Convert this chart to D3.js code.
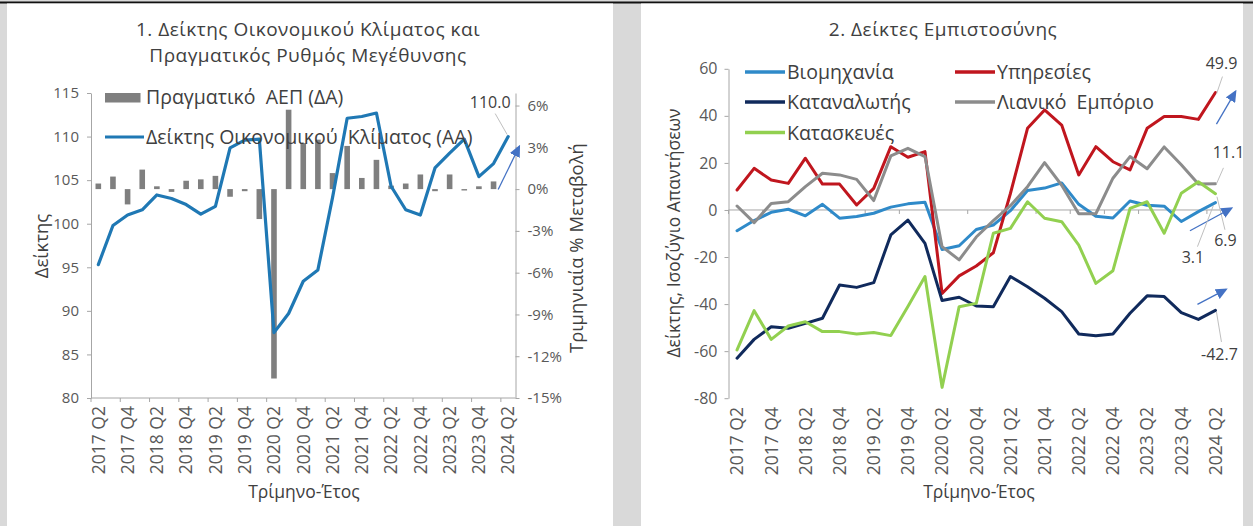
<!DOCTYPE html>
<html>
<head>
<meta charset="utf-8">
<script src="https://cdn.jsdelivr.net/npm/d3@7"></script>
<style>
  body { margin: 0; background: #d9d9d9; }
  svg { display: block; }
</style>
</head>
<body>
<script>

// ---- data ----
const quarters = [
  "2017 Q2", "2017 Q3", "2017 Q4",
  "2018 Q1", "2018 Q2", "2018 Q3", "2018 Q4",
  "2019 Q1", "2019 Q2", "2019 Q3", "2019 Q4",
  "2020 Q1", "2020 Q2", "2020 Q3", "2020 Q4",
  "2021 Q1", "2021 Q2", "2021 Q3", "2021 Q4",
  "2022 Q1", "2022 Q2", "2022 Q3", "2022 Q4",
  "2023 Q1", "2023 Q2", "2023 Q3", "2023 Q4",
  "2024 Q1", "2024 Q2"
]

// chart 1
const climateIndex = [95.3, 99.8, 101.0, 101.6, 103.3, 102.9, 102.2, 101.1, 102.0, 108.7, 109.6, 109.7,
  87.5, 89.7, 93.4, 94.7, 103.0, 112.1, 112.3, 112.7, 104.3, 101.6, 101.0, 106.4, 108.1, 109.7, 105.4, 106.9, 110.0]
const realGdp = [0.4, 0.9, -1.1, 1.4, 0.2, -0.2, 0.6, 0.7, 0.95, -0.55, -0.15, -2.15,
  -13.6, 5.7, 3.3, 3.55, 1.15, 3.1, 0.8, 2.1, 0.25, 0.4, 1.05, -0.15, 1.05, -0.1, 0.2, 0.55, null]
const indexTicks = [80, 85, 90, 95, 100, 105, 110, 115]
const pctTicks = [-15, -12, -9, -6, -3, 0, 3, 6]

// chart 2
const industry = [-8.8, -4.5, -1.0, 0.3, -2.5, 2.4, -3.5, -2.8, -1.4, 1.2, 2.6, 3.3,
  -16.8, -15.2, -8.3, -6.4, -0.3, 8.3, 9.3, 11.5, 2.4, -2.7, -3.4, 3.8, 2.0, 1.6, -4.9, -0.7, 3.1]
const services = [8.5, 17.7, 12.7, 11.3, 22.0, 11.0, 11.0, 2.1, 9.2, 26.9, 22.4, 24.8,
  -35.5, -28.0, -23.8, -18.2, 7.0, 34.7, 42.5, 36.1, 14.9, 26.9, 20.5, 17.0, 34.7, 39.7, 39.7, 38.5, 49.9]
const consumers = [-63.0, -55.0, -49.6, -50.3, -48.2, -46.0, -31.9, -32.9, -30.9, -10.6, -4.3, -14.2,
  -38.5, -37.1, -40.8, -41.1, -28.3, -32.6, -37.5, -43.2, -52.7, -53.5, -52.7, -43.9, -36.5, -36.8, -43.6, -46.5, -42.7]
const retail = [1.7, -5.4, 2.8, 3.5, 9.9, 15.6, 14.9, 13.0, 4.0, 23.0, 26.2, 22.7,
  -15.6, -21.2, -11.5, -4.5, 1.8, 9.9, 20.1, 10.5, -1.6, -1.6, 13.5, 22.7, 17.5, 26.8, 19.2, 11.0, 11.1]
const construction = [-59.5, -42.8, -55.0, -49.3, -47.5, -51.7, -51.7, -52.7, -52.1, -53.4, -41.0, -28.3,
  -75.4, -41.1, -39.7, -9.9, -7.8, 3.5, -3.5, -5.0, -14.9, -31.2, -25.8, 0.7, 3.5, -9.9, 7.1, 12.0, 6.9]
const confTicks = [-80, -60, -40, -20, 0, 20, 40, 60]

const seriesNames = ["Βιομηχανία", "Υπηρεσίες", "Καταναλωτής", "Λιανικό  Εμπόριο", "Κατασκευές"]
const seriesColors = ["#2f8ac9", "#c0161e", "#102a5c", "#8c8c8c", "#92d050"]
const seriesValues = [industry, services, consumers, retail, construction]

// ---- page ----
const W = 1253, H = 526
const textColor = "#404040"
const axisColor = "#a6a6a6"
const font = "'Open Sans', 'DejaVu Sans', sans-serif"
const arrowBlue = "#4472c4"

const svg = d3.select('body').append('svg')
  .attr('width', W).attr('height', H)
  .style('font-family', font)

svg.append('rect').attr('width', W).attr('height', H).attr('fill', '#d9d9d9')
svg.append('rect').attr('x', 0).attr('y', 1.5).attr('width', W).attr('height', 2).attr('fill', '#111')
svg.append('rect').attr('x', 7).attr('y', 3.5).attr('width', 606).attr('height', H).attr('fill', '#fff')
svg.append('rect').attr('x', 641).attr('y', 3.5).attr('width', 602).attr('height', H).attr('fill', '#fff')

const defs = svg.append('defs')
defs.append('marker')
  .attr('id', 'arrowhead')
  .attr('viewBox', '0 0 12 11')
  .attr('refX', 10).attr('refY', 5.5)
  .attr('markerWidth', 12).attr('markerHeight', 11)
  .attr('markerUnits', 'userSpaceOnUse')
  .attr('orient', 'auto')
  .append('path').attr('d', 'M0,0 L12,5.5 L0,11 Z').attr('fill', arrowBlue)

function styleAxis(g, size) {
  g.attr('font-size', null).attr('font-family', null)
  g.select('.domain').attr('stroke', axisColor)
  g.selectAll('.tick line').attr('stroke', axisColor)
  g.selectAll('.tick text').attr('fill', '#595959').attr('font-size', size)
}

function addText(x, y, str, size, opts = {}) {
  const t = svg.append('text')
    .attr('x', x).attr('y', y)
    .attr('fill', textColor)
    .attr('font-size', size)
    .attr('text-anchor', opts.anchor || 'middle')
    .style('white-space', 'pre')
    .text(str)
  if (opts.rotate) t.attr('transform', `rotate(-90, ${x}, ${y})`)
  if (opts.spacing) t.attr('letter-spacing', opts.spacing)
  return t
}

function categoryAxis(x, yLine, yLabels, drawLine) {
  const g = svg.append('g')
  const bw = x.bandwidth()
  const [x0, x1] = x.range()
  if (drawLine) {
    g.append('line').attr('x1', x0).attr('x2', x1).attr('y1', yLine).attr('y2', yLine)
      .attr('stroke', axisColor)
  }
  for (let k = 0; k <= quarters.length; k += 2) {
    g.append('line')
      .attr('x1', x0 + k * bw).attr('x2', x0 + k * bw)
      .attr('y1', yLine).attr('y2', yLine + 4)
      .attr('stroke', axisColor)
  }
  g.selectAll('.qlabel')
    .data(quarters.filter((q, i) => i % 2 === 0))
    .enter().append('text')
    .attr('class', 'qlabel')
    .attr('transform', d => `translate(${x(d) + bw / 2}, ${yLabels}) rotate(-90)`)
    .attr('text-anchor', 'end')
    .attr('dy', '0.36em')
    .attr('fill', '#595959')
    .attr('font-size', 17.5)
    .text(d => d)
}

// ================= chart 1 =================
const x1 = d3.scaleBand().domain(quarters).range([91, 515.5])
const y1 = d3.scaleLinear().domain([80, 115]).range([398, 93])
const y1r = d3.scaleLinear().domain([-15, 6.9]).range([398, 93])
const bw1 = x1.bandwidth()
const cx1 = i => x1(quarters[i]) + bw1 / 2

addText(308, 36, "1. Δείκτης Οικονομικού Κλίματος και", 19, { spacing: 0.5 })
addText(308, 62, "Πραγματικός Ρυθμός Μεγέθυνσης", 19, { spacing: 0.5 })

svg.append('g').attr('transform', 'translate(91,0)')
  .call(d3.axisLeft(y1).tickValues(indexTicks).tickSize(4).tickPadding(8).tickSizeOuter(0))
  .call(g => styleAxis(g, 15))

svg.append('g').attr('transform', 'translate(515.5,0)')
  .call(d3.axisRight(y1r).tickValues(pctTicks).tickSize(4).tickPadding(8).tickSizeOuter(0)
    .tickFormat(d => String(d) + '%'))
  .call(g => styleAxis(g, 15))

categoryAxis(x1, 398, 406, true)

// bars
svg.append('g').selectAll('rect')
  .data(realGdp.map((v, i) => ({ v, i })).filter(d => d.v !== null))
  .enter().append('rect')
  .attr('x', d => cx1(d.i) - 2.8)
  .attr('width', 5.6)
  .attr('y', d => Math.min(y1r(d.v), y1r(0)))
  .attr('height', d => Math.max(1.2, Math.abs(y1r(d.v) - y1r(0))))
  .attr('fill', '#7f7f7f')

// line
const line1 = d3.line().x((d, i) => cx1(i)).y(d => y1(d))
svg.append('path').datum(climateIndex)
  .attr('d', line1)
  .attr('fill', 'none')
  .attr('stroke', '#1f78b4')
  .attr('stroke-width', 3.2)
  .attr('stroke-linejoin', 'round')
  .attr('stroke-linecap', 'round')

// legend 1
svg.append('rect').attr('x', 105).attr('y', 93).attr('width', 35.5).attr('height', 9.5).attr('fill', '#7f7f7f')
addText(146, 104, "Πραγματικό  ΑΕΠ (ΔΑ)", 19.5, { anchor: 'start' })
svg.append('line').attr('x1', 105).attr('x2', 144).attr('y1', 137).attr('y2', 137)
  .attr('stroke', '#1f78b4').attr('stroke-width', 3.2)
addText(146, 144, "Δείκτης Οικονομικού  Κλίματος (ΑΑ)", 19.5, { anchor: 'start' })

// axis titles 1
addText(48, 246, "Δείκτης", 18.5, { rotate: true })
addText(583, 248, "Τριμηνιαία % Μεταβολή", 18.5, { rotate: true })
addText(304, 498, "Τρίμηνο-Έτος", 17.5)

// end label 1
{
  const n = climateIndex.length - 1
  const px = cx1(n), py = y1(climateIndex[n])
  svg.append('line').attr('x1', px - 1).attr('y1', py - 2).attr('x2', px - 13).attr('y2', py - 23)
    .attr('stroke', '#bfbfbf').attr('stroke-width', 1)
  addText(px - 18, py - 28.5, climateIndex[n].toFixed(1), 16)
  svg.append('line').attr('x1', px - 10).attr('y1', py + 53).attr('x2', px + 11).attr('y2', py + 10)
    .attr('stroke', arrowBlue).attr('stroke-width', 1.3)
    .attr('marker-end', 'url(#arrowhead)')
}

// ================= chart 2 =================
const x2 = d3.scaleBand().domain(quarters).range([728.5, 1224])
const y2 = d3.scaleLinear().domain([-80, 60]).range([398.2, 68.8])
const bw2 = x2.bandwidth()
const cx2 = i => x2(quarters[i]) + bw2 / 2

addText(943, 36, "2. Δείκτες Εμπιστοσύνης", 19, { spacing: 0.5 })

svg.append('g').attr('transform', 'translate(728.5,0)')
  .call(d3.axisLeft(y2).tickValues(confTicks).tickSize(4).tickPadding(7).tickSizeOuter(0)
    .tickFormat(d => String(d)))
  .call(g => styleAxis(g, 16))

categoryAxis(x2, y2(0), 407, true)

const line2 = d3.line().x((d, i) => cx2(i)).y(d => y2(d))
svg.append('g').selectAll('path')
  .data(seriesValues)
  .enter().append('path')
  .attr('d', d => line2(d))
  .attr('fill', 'none')
  .attr('stroke', (d, i) => seriesColors[i])
  .attr('stroke-width', 3)
  .attr('stroke-linejoin', 'round')
  .attr('stroke-linecap', 'round')

// legend 2
const legendPos = [[745, 72], [955, 72], [745, 102], [955, 102], [745, 132.5]]
seriesNames.forEach((name, i) => {
  const [lx, ly] = legendPos[i]
  svg.append('line').attr('x1', lx).attr('x2', lx + 40).attr('y1', ly).attr('y2', ly)
    .attr('stroke', seriesColors[i]).attr('stroke-width', 3.5)
  addText(lx + 42, ly + 7, name, 19.5, { anchor: 'start' })
})

addText(680, 233, "Δείκτης, Ισοζύγιο Απαντήσεων", 17.5, { rotate: true })
addText(979, 498, "Τρίμηνο-Έτος", 17.5)

// end labels 2: [series index, leader from, leader to, text pos, arrow from, arrow to]
const endLabels = [
  [1, [1, 1.5], [7, -16], [6, -23.5], [1, 31.5], [20, -1]],
  [3, [1, 0], [8, -16], [13, -26], null, null],
  [4, [1.5, 3], [9.5, 36], [10, 52], [-25.5, 37], [16, 14.5]],
  [0, [-2, 2.6], [-18, 44], [-22.5, 60], null, null],
  [2, [1, 1.5], [6, 31.5], [4, 49.5], [-18, -6], [10.5, -21]]
]
endLabels.forEach(([s, a, b, t, af, at]) => {
  const vals = seriesValues[s]
  const n = vals.length - 1
  const px = cx2(n), py = y2(vals[n])
  svg.append('line').attr('x1', px + a[0]).attr('y1', py + a[1]).attr('x2', px + b[0]).attr('y2', py + b[1])
    .attr('stroke', '#bfbfbf').attr('stroke-width', 1)
  addText(px + t[0], py + t[1], vals[n].toFixed(1), 16)
  if (af) {
    svg.append('line').attr('x1', px + af[0]).attr('y1', py + af[1]).attr('x2', px + at[0]).attr('y2', py + at[1])
      .attr('stroke', arrowBlue).attr('stroke-width', 1.3)
      .attr('marker-end', 'url(#arrowhead)')
  }
})

</script>
</body>
</html>
